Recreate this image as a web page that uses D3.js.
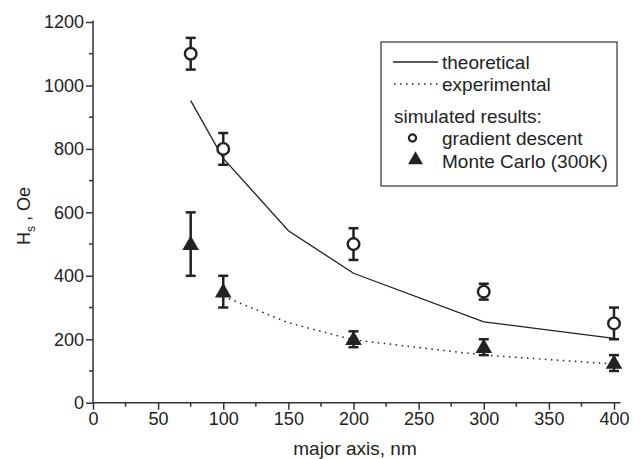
<!DOCTYPE html>
<html>
<head>
<meta charset="utf-8">
<script src="https://cdn.jsdelivr.net/npm/d3@7"></script>
<style>
  body { margin: 0; background: #fff; }
  svg text { font-family: "Liberation Sans", Arial, sans-serif; }
</style>
</head>
<body>
<svg id="chart" width="643" height="459"></svg>
<script>
// data
const theoryX = [75, 100, 150, 200, 300, 400];
const theoryY = [952, 770, 542, 408, 255, 203];

const exptX = [100, 150, 200, 300, 400];
const exptY = [335, 252, 198, 150, 122];

const gradX = [75, 100, 200, 300, 400];
const gradY = [1100, 800, 500, 350, 250];
const gradErr = [50, 50, 50, 25, 50];

const mcX = [75, 100, 200, 300, 400];
const mcY = [500, 350, 200, 175, 125];
const mcErr = [100, 50, 25, 25, 25];

const xTicks = [0, 50, 100, 150, 200, 250, 300, 350, 400];
const yTicks = [0, 200, 400, 600, 800, 1000, 1200];

const legendItems = ["theoretical", "experimental", "simulated results:", "gradient descent", "Monte Carlo (300K)"];

let svg = d3.select("#chart");
let ink = "#222";

let x = d3.scaleLinear().domain([0, 400]).range([93, 614]);
let y = d3.scaleLinear().domain([0, 1200]).range([402.7, 22]);

// axes
let xAxis = d3.axisBottom(x).tickValues(xTicks).tickFormat(d3.format("d")).tickSize(7).tickPadding(3);
let yAxis = d3.axisLeft(y).tickValues(yTicks).tickFormat(d3.format("d")).tickSize(7).tickPadding(2);

let gx = svg.append("g").attr("transform", `translate(0,${y(0)})`).call(xAxis);
let gy = svg.append("g").attr("transform", `translate(${x(0)},0)`).call(yAxis);

[gx, gy].forEach(g => {
    g.attr("font-family", null).attr("font-size", null);
    g.select(".domain").remove();
    g.selectAll("line").attr("stroke", "#333").attr("stroke-width", 1.5);
    g.selectAll("text").attr("fill", ink).style("font-size", "18px");
});

// axis lines
svg.append("line")
    .attr("x1", x(0)).attr("x2", x(405))
    .attr("y1", y(0)).attr("y2", y(0))
    .attr("stroke", "#333").attr("stroke-width", 1.5);
svg.append("line")
    .attr("x1", x(0)).attr("x2", x(0))
    .attr("y1", y(0)).attr("y2", y(1205))
    .attr("stroke", "#333").attr("stroke-width", 1.5);

// minor ticks
let xMinor = d3.range(25, 400, 50);
let yMinor = d3.range(100, 1200, 200);
svg.append("g").selectAll("line").data(xMinor).join("line")
    .attr("x1", d => x(d)).attr("x2", d => x(d))
    .attr("y1", y(0)).attr("y2", y(0) + 4)
    .attr("stroke", "#333").attr("stroke-width", 1.5);
svg.append("g").selectAll("line").data(yMinor).join("line")
    .attr("x1", x(0) - 4).attr("x2", x(0))
    .attr("y1", d => y(d)).attr("y2", d => y(d))
    .attr("stroke", "#333").attr("stroke-width", 1.5);

// axis titles
svg.append("text")
    .attr("x", 355).attr("y", 455)
    .attr("text-anchor", "middle")
    .attr("fill", ink)
    .style("font-size", "19px")
    .text("major axis, nm");

let yt = svg.append("text")
    .attr("transform", "translate(30,216) rotate(-90)")
    .attr("text-anchor", "middle")
    .attr("fill", ink)
    .style("font-size", "18px");
yt.append("tspan").text("H");
yt.append("tspan").attr("dy", 5).style("font-size", "12px").text("s");
yt.append("tspan").attr("dy", -5).text(" , Oe");

// lines
let line = d3.line().x(d => x(d[0])).y(d => y(d[1]));

svg.append("path")
    .datum(d3.zip(theoryX, theoryY))
    .attr("d", line)
    .attr("fill", "none")
    .attr("stroke", ink)
    .attr("stroke-width", 1.3);

svg.append("path")
    .datum(d3.zip(exptX, exptY))
    .attr("d", line)
    .attr("fill", "none")
    .attr("stroke", ink)
    .attr("stroke-width", 1.5)
    .attr("stroke-dasharray", "1.5,4.5");

// error bars
function errorBars(xs, ys, es) {
    let g = svg.append("g").attr("stroke", ink).attr("stroke-width", 2.5);
    let pts = d3.zip(xs, ys, es);
    g.selectAll(".v").data(pts).join("line")
        .attr("x1", d => x(d[0])).attr("x2", d => x(d[0]))
        .attr("y1", d => y(d[1] - d[2])).attr("y2", d => y(d[1] + d[2]));
    g.selectAll(".t").data(pts).join("line")
        .attr("x1", d => x(d[0]) - 5).attr("x2", d => x(d[0]) + 5)
        .attr("y1", d => y(d[1] + d[2])).attr("y2", d => y(d[1] + d[2]));
    g.selectAll(".b").data(pts).join("line")
        .attr("x1", d => x(d[0]) - 5).attr("x2", d => x(d[0]) + 5)
        .attr("y1", d => y(d[1] - d[2])).attr("y2", d => y(d[1] - d[2]));
}
errorBars(gradX, gradY, gradErr);
errorBars(mcX, mcY, mcErr);

// markers
let tri = d3.symbol().type(d3.symbolTriangle).size(120);

svg.append("g").selectAll("circle").data(d3.zip(gradX, gradY)).join("circle")
    .attr("cx", d => x(d[0])).attr("cy", d => y(d[1]))
    .attr("r", 5.8)
    .attr("fill", "#fff")
    .attr("stroke", ink)
    .attr("stroke-width", 2.4);

svg.append("g").selectAll("path").data(d3.zip(mcX, mcY)).join("path")
    .attr("transform", d => `translate(${x(d[0])},${y(d[1]) + 1})`)
    .attr("d", tri)
    .attr("fill", ink);

// legend
let lg = svg.append("g");
lg.append("rect")
    .attr("x", 381).attr("y", 42)
    .attr("width", 236).attr("height", 144)
    .attr("fill", "#fff")
    .attr("stroke", "#333")
    .attr("stroke-width", 1.2);

lg.append("line")
    .attr("x1", 393).attr("x2", 438).attr("y1", 62).attr("y2", 62)
    .attr("stroke", ink).attr("stroke-width", 1.3);
lg.append("line")
    .attr("x1", 394).attr("x2", 438).attr("y1", 84).attr("y2", 84)
    .attr("stroke", ink).attr("stroke-width", 1.5)
    .attr("stroke-dasharray", "1.5,4.5");
lg.append("circle")
    .attr("cx", 412.5).attr("cy", 138).attr("r", 3.6)
    .attr("fill", "#fff").attr("stroke", ink).attr("stroke-width", 2.2);
lg.append("path")
    .attr("transform", "translate(415.5,160)")
    .attr("d", d3.symbol().type(d3.symbolTriangle).size(97))
    .attr("fill", ink);

let legendPos = [[442, 62], [442, 84], [394, 116], [442, 138], [442, 161]];
lg.selectAll("text").data(legendItems).join("text")
    .attr("x", (d, i) => legendPos[i][0])
    .attr("y", (d, i) => legendPos[i][1])
    .attr("dy", "0.35em")
    .attr("fill", ink)
    .style("font-size", "19px")
    .text(d => d);
</script>
</body>
</html>
